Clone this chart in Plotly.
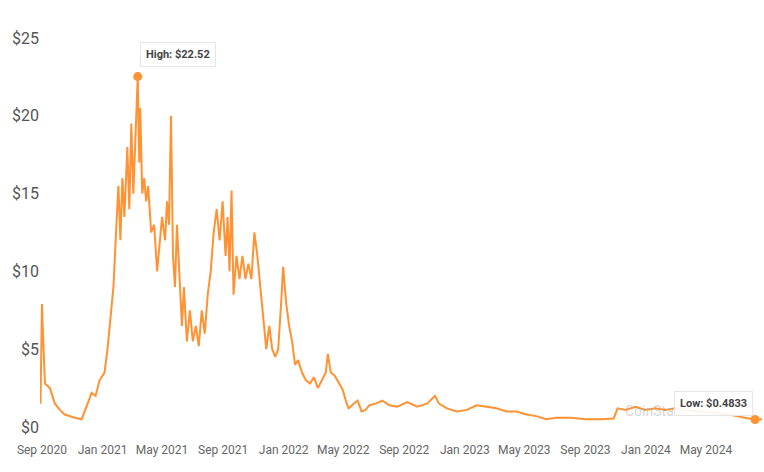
import plotly.graph_objects as go

dates = [
    "2020-08-29", "2020-09-01", "2020-09-03", "2020-09-07", "2020-09-17", "2020-09-27", "2020-10-07", "2020-10-17",
    "2020-11-06", "2020-11-20", "2020-12-02", "2020-12-10", "2020-12-18", "2020-12-26", "2021-01-05", "2021-01-11",
    "2021-01-17", "2021-01-23", "2021-01-29", "2021-02-02", "2021-02-06", "2021-02-10", "2021-02-14", "2021-02-20",
    "2021-02-24", "2021-02-28", "2021-03-04", "2021-03-08", "2021-03-13", "2021-03-16", "2021-03-18", "2021-03-22",
    "2021-03-26", "2021-03-30", "2021-04-03", "2021-04-09", "2021-04-15", "2021-04-21", "2021-04-27", "2021-05-01",
    "2021-05-07", "2021-05-11", "2021-05-15", "2021-05-19", "2021-05-23", "2021-05-27", "2021-05-31", "2021-06-04",
    "2021-06-10", "2021-06-14", "2021-06-20", "2021-06-26", "2021-07-02", "2021-07-08", "2021-07-14", "2021-07-20",
    "2021-07-26", "2021-08-01", "2021-08-07", "2021-08-13", "2021-08-19", "2021-08-25", "2021-08-31", "2021-09-06",
    "2021-09-10", "2021-09-14", "2021-09-18", "2021-09-22", "2021-09-28", "2021-10-04", "2021-10-10", "2021-10-16",
    "2021-10-22", "2021-10-28", "2021-11-03", "2021-11-09", "2021-11-15", "2021-11-21", "2021-11-27", "2021-12-03",
    "2021-12-09", "2021-12-15", "2021-12-21", "2021-12-27", "2021-12-31", "2022-01-06", "2022-01-12", "2022-01-18",
    "2022-01-24", "2022-01-30", "2022-02-07", "2022-02-15", "2022-02-23", "2022-03-03", "2022-03-11", "2022-03-19",
    "2022-03-27", "2022-03-31", "2022-04-06", "2022-04-14", "2022-04-22", "2022-04-30", "2022-05-08", "2022-05-12",
    "2022-05-22", "2022-05-30", "2022-06-07", "2022-06-15", "2022-06-23", "2022-07-05", "2022-07-19", "2022-08-02",
    "2022-08-18", "2022-09-07", "2022-09-27", "2022-10-17", "2022-11-02", "2022-11-10", "2022-11-26", "2022-12-16",
    "2023-01-05", "2023-01-25", "2023-02-14", "2023-03-06", "2023-03-26", "2023-04-15", "2023-05-05", "2023-05-25",
    "2023-06-14", "2023-07-04", "2023-08-03", "2023-09-02", "2023-10-02", "2023-10-28", "2023-11-05", "2023-11-21",
    "2023-12-11", "2023-12-31", "2024-01-20", "2024-02-09", "2024-02-29", "2024-03-20", "2024-04-19", "2024-05-19",
    "2024-06-18", "2024-07-18", "2024-08-08", "2024-08-22",
]
prices = [
    1.5, 7.9, 6.0, 2.8, 2.5, 1.5, 1.1, 0.8,
    0.6, 0.5, 1.5, 2.2, 2.0, 3.0, 3.5, 5.0,
    7.0, 9.0, 13, 15.5, 12, 16, 13.5, 18,
    14, 19.5, 15, 18, 22.52, 17, 20.5, 15,
    16, 14.5, 15.5, 12.5, 13, 10, 12, 13.5,
    12, 14.5, 13, 20, 11, 9, 13, 10,
    6.5, 9, 5.5, 7.5, 5.5, 6.5, 5.2, 7.5,
    6, 8.5, 10, 12.5, 14, 12, 14.5, 11,
    13.5, 10, 15.2, 8.5, 11, 9.5, 11, 9.5,
    10.5, 9.5, 12.5, 11, 9, 7.5, 5, 6.5,
    5, 4.5, 5, 8, 10.3, 8, 6.5, 5.5,
    4, 4.3, 3.5, 3, 2.8, 3.2, 2.5, 3,
    3.5, 4.7, 3.5, 3.3, 2.8, 2.4, 1.5, 1.2,
    1.5, 1.7, 1.0, 1.1, 1.4, 1.5, 1.7, 1.4,
    1.3, 1.6, 1.3, 1.5, 2.0, 1.5, 1.2, 1.0,
    1.1, 1.4, 1.3, 1.2, 1.0, 1.0, 0.8, 0.7,
    0.5, 0.6, 0.6, 0.5, 0.5, 0.55, 1.2, 1.1,
    1.3, 1.1, 1.2, 1.1, 1.2, 1.1, 1.0, 0.9,
    0.8, 0.6, 0.4833, 0.5,
]
tick_dates = ["2020-09-01", "2021-01-01", "2021-05-01", "2021-09-01", "2022-01-01", "2022-05-01",
              "2022-09-01", "2023-01-01", "2023-05-01", "2023-09-01", "2024-01-01", "2024-05-01"]
tick_text = ["Sep 2020", "Jan 2021", "May 2021", "Sep 2021", "Jan 2022", "May 2022",
             "Sep 2022", "Jan 2023", "May 2023", "Sep 2023", "Jan 2024", "May 2024"]
y_ticks = [0, 5, 10, 15, 20, 25]

orange = "#FF9232"
hi = prices.index(max(prices))
lo = prices.index(min(prices))

fig = go.Figure()
fig.add_trace(go.Scatter(
    x=dates, y=prices, mode="lines", line=dict(color=orange, width=2),
    fill="tozeroy",
    fillgradient=dict(type="vertical",
                      colorscale=[[0, "rgba(255,255,255,0)"], [0.5, "rgba(255,255,255,0)"], [1, "rgba(255,160,80,0.18)"]]),
    hoverinfo="skip", showlegend=False,
))
fig.add_trace(go.Scatter(
    x=[dates[hi], dates[lo]], y=[prices[hi], prices[lo]], mode="markers", cliponaxis=False,
    marker=dict(color=orange, size=9), showlegend=False,
))

fig.add_annotation(xref="paper", yref="paper", x=0.895, y=0.015, text="CoinStats", showarrow=False,
                   font=dict(family="Roboto", size=14, color="rgba(180,180,180,0.55)"))
fig.add_annotation(x=dates[hi], y=prices[hi], text="<b>High: $22.52</b>", showarrow=False,
                   xshift=40, yshift=22, bgcolor="white", bordercolor="#e6e6e6", borderwidth=1, borderpad=5,
                   font=dict(family="Roboto", size=11, color="#444"))
fig.add_annotation(x=dates[lo], y=prices[lo], text="<b>Low: $0.4833</b>", showarrow=False,
                   xshift=-42, yshift=16, bgcolor="rgba(255,255,255,0.9)", bordercolor="#e6e6e6", borderwidth=1, borderpad=5,
                   font=dict(family="Roboto", size=11, color="#444"))

fig.update_layout(
    width=764, height=472, plot_bgcolor="white", paper_bgcolor="white",
    margin=dict(l=40, r=0, t=38, b=45),
    font=dict(family="Roboto", color="#555"),
    xaxis=dict(range=["2020-08-28", "2024-08-26"], tickvals=tick_dates, ticktext=tick_text,
               ticks="outside", ticklen=12, tickcolor="rgba(0,0,0,0)",
               showgrid=False, zeroline=False, showline=False, automargin=False,
               tickfont=dict(size=12, color="#666")),
    yaxis=dict(range=[0, 25], tickvals=y_ticks, ticktext=["$" + str(v) for v in y_ticks],
               showgrid=False, zeroline=False, showline=False, automargin=False,
               tickfont=dict(size=16, color="#555")),
)
fig.write_html("out.html", config={"displayModeBar": False},
               post_script="document.body.style.margin='0';")
